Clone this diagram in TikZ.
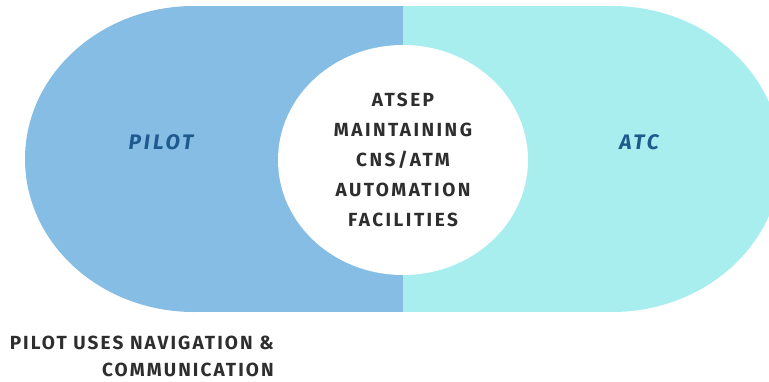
\documentclass[tikz,border=0pt]{standalone}
\usepackage{fontspec}
\setmainfont{Fira Sans}
\newfontfamily\spacedfont[LetterSpace=13]{Fira Sans}
\newfontfamily\labelfont[LetterSpace=14]{Fira Sans}
\newfontfamily\notefont[LetterSpace=11]{Fira Sans}
\definecolor{pilotblue}{HTML}{85BDE5}
\definecolor{atccyan}{HTML}{A8EEEE}
\definecolor{labelblue}{HTML}{1F5A8F}
\definecolor{darktext}{HTML}{2E2E2E}
\tikzset{
  region/.style={draw=none},
  sidelabel/.style={text=labelblue, font=\labelfont\fontsize{21}{24}\selectfont\bfseries\itshape, inner sep=0pt},
  centerlabel/.style={text=darktext, align=center, font=\spacedfont\fontsize{19}{30}\selectfont\bfseries, inner sep=0pt},
  notelabel/.style={text=darktext, align=right, font=\notefont\fontsize{19}{27}\selectfont\bfseries, inner sep=0pt}
}
\begin{document}
\begin{tikzpicture}[x=1pt,y=-1pt]
\useasboundingbox (0,0) rectangle (769,381);
\begin{scope}
\clip (0,0) rectangle (769,381);
% left (pilot) region
\fill[pilotblue, region] (194,159) ellipse [x radius=169, y radius=153];
\fill[pilotblue, region] (194,6) rectangle (403,312);
% right (ATC) region
\fill[atccyan, region] (612,159) ellipse [x radius=169, y radius=153];
\fill[atccyan, region] (403,6) rectangle (612,312);
% center circle
\fill[white, region] (403,160) ellipse [x radius=125, y radius=115];
\end{scope}
\node[sidelabel] (pilot) at (161,142) {PILOT};
\node[sidelabel] (atc) at (639,142) {ATC};
\node[centerlabel] (center) at (403,160) {ATSEP\\MAINTAINING\\CNS/ATM\\AUTOMATION\\FACILITIES};
\node[notelabel, anchor=north east] (note) at (274,336) {PILOT USES NAVIGATION \&\\COMMUNICATION};
\end{tikzpicture}
\end{document}
